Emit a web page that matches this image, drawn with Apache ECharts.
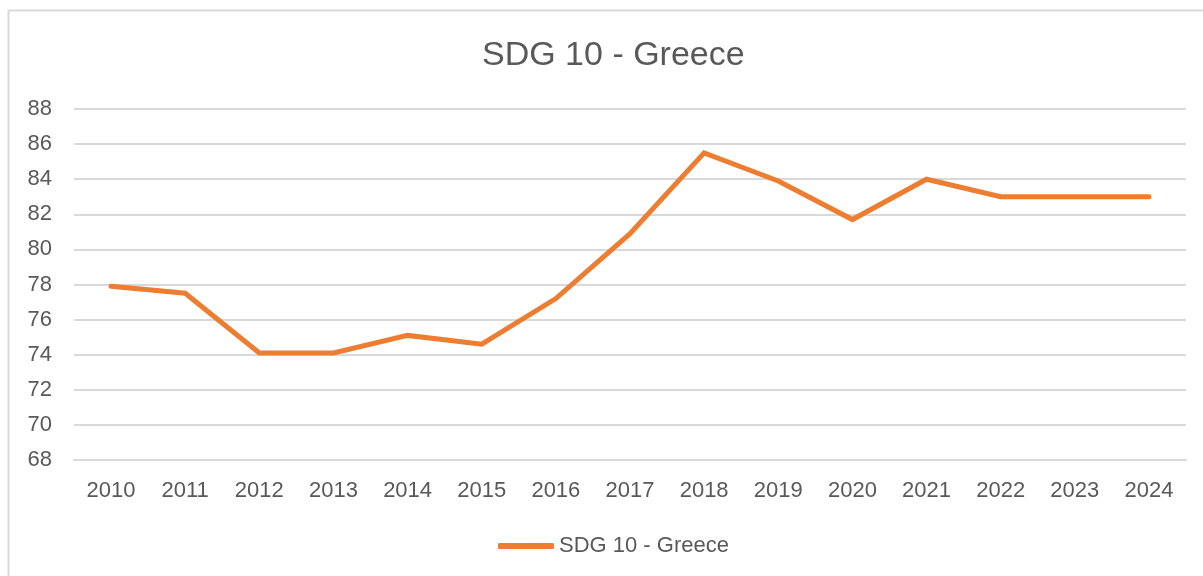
<!DOCTYPE html>
<html>
<head>
<meta charset="utf-8">
<title>SDG 10 - Greece</title>
<script src="https://cdn.jsdelivr.net/npm/echarts@6/dist/echarts.min.js"></script>
<style>
  html, body { margin: 0; padding: 0; background: #fff; }
  #chart { width: 1203px; height: 576px; }
</style>
</head>
<body>
<div id="chart"></div>
<script>
// data
var years = ['2010', '2011', '2012', '2013', '2014', '2015', '2016', '2017',
             '2018', '2019', '2020', '2021', '2022', '2023', '2024'];
var greeceValues = [77.9, 77.5, 74.1, 74.1, 75.1, 74.6, 77.2, 80.9,
                    85.5, 83.9, 81.7, 84.0, 83.0, 83.0, 83.0];
var seriesName = 'SDG 10 - Greece';

var textColor = '#595959';
var lineColor = '#ED7D31';
var fontName = 'Liberation Sans';

var myChart = echarts.init(document.getElementById('chart'));

var option = {
  backgroundColor: '#fff',
  animation: false,
  textStyle: { fontFamily: fontName },
  graphic: [{
    type: 'rect',
    shape: { x: 8.5, y: 10.5, width: 1300, height: 700 },
    style: { fill: 'none', stroke: '#d9d9d9', lineWidth: 2 },
    silent: true
  }],
  title: {
    text: seriesName,
    left: 477,
    top: 34,
    textStyle: { color: textColor, fontSize: 34, fontWeight: 'normal', fontFamily: fontName }
  },
  legend: {
    bottom: 14,
    left: 493,
    icon: 'roundRect',
    itemWidth: 56,
    itemHeight: 6,
    itemGap: 4,
    textStyle: { color: textColor, fontSize: 22, fontFamily: fontName },
    data: [seriesName]
  },
  grid: { left: 74, right: 17, top: 109, bottom: 116, containLabel: false },
  xAxis: {
    type: 'category',
    data: years,
    boundaryGap: true,
    axisLine: { show: true, lineStyle: { color: '#d9d9d9', width: 2 } },
    axisTick: { show: false },
    axisLabel: { color: textColor, fontSize: 22, margin: 20, fontFamily: fontName }
  },
  yAxis: {
    type: 'value',
    min: 68,
    max: 88,
    interval: 2,
    axisLine: { show: false },
    axisTick: { show: false },
    axisLabel: { color: textColor, fontSize: 22, margin: 22, fontFamily: fontName },
    splitLine: { lineStyle: { color: '#d9d9d9', width: 2 } }
  },
  series: [{
    name: seriesName,
    type: 'line',
    data: greeceValues,
    symbol: 'none',
    itemStyle: { color: lineColor },
    lineStyle: { color: lineColor, width: 5, cap: 'round', join: 'miter' }
  }]
};

option && myChart.setOption(option);
</script>
</body>
</html>
